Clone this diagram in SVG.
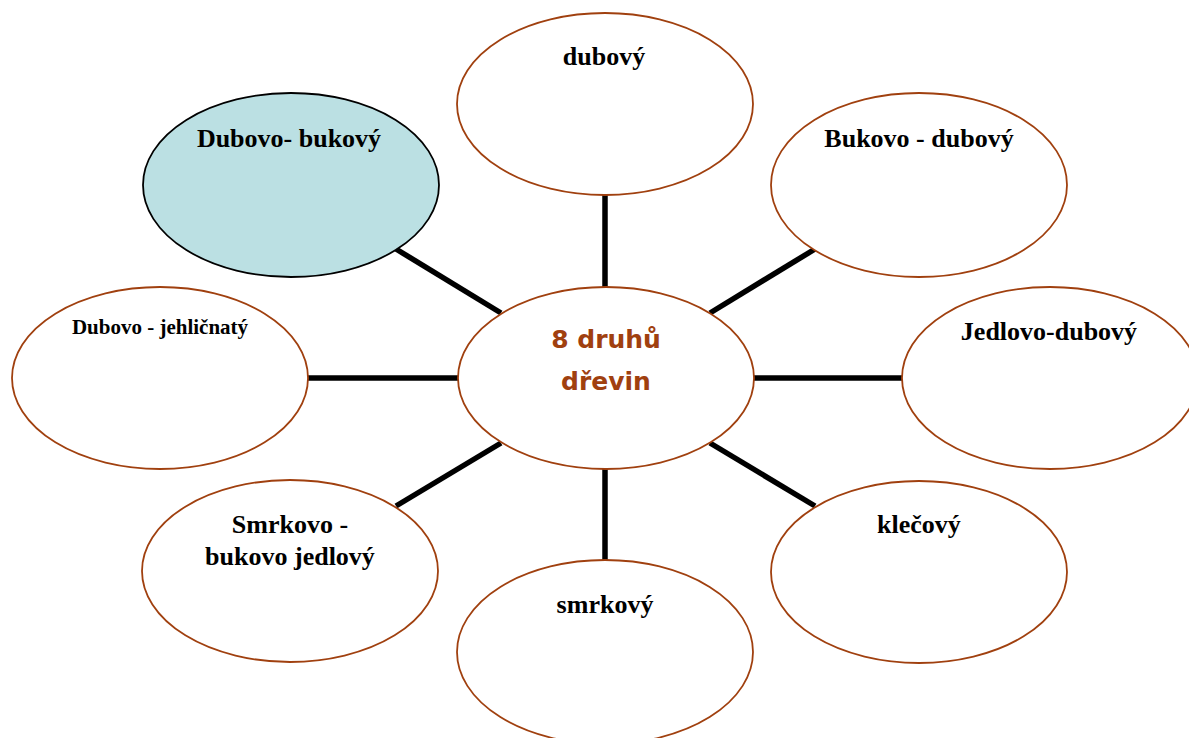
<svg xmlns="http://www.w3.org/2000/svg" width="1189" height="738" viewBox="0 0 1189 738">
<style>
.n{fill:#fff;stroke:#A0400F;stroke-width:1.8}
.hl{fill:#BBE0E3;stroke:#000;stroke-width:1.8}
.t{font-family:"Liberation Serif","Times New Roman",serif;font-weight:bold;font-size:26px;fill:#000;text-anchor:middle}
.s{font-size:21px}
.c{font-family:"Comic Sans MS","DejaVu Sans",sans-serif;font-weight:bold;font-size:25px;fill:#A0400F;text-anchor:middle}
.l{stroke:#000;stroke-width:5.5;fill:none}
</style>
<rect width="1189" height="738" fill="#fff"/>
<g id="connectors">
<line class="l" x1="605" y1="195" x2="605" y2="287"/>
<line class="l" x1="396" y1="249" x2="501" y2="313"/>
<line class="l" x1="815" y1="249" x2="710" y2="313"/>
<line class="l" x1="308" y1="378" x2="458" y2="378"/>
<line class="l" x1="753" y1="378" x2="902" y2="378"/>
<line class="l" x1="501" y1="443" x2="396" y2="506"/>
<line class="l" x1="710" y1="443" x2="815" y2="506"/>
<line class="l" x1="605" y1="469" x2="605" y2="561"/>
</g>
<g id="center">
<ellipse class="n" cx="606" cy="378" rx="148" ry="91"/>
<text class="c" x="606" y="348">8 druhů</text>
<text class="c" x="606" y="390">dřevin</text>
</g>
<g id="n-dubovy">
<ellipse class="n" cx="605" cy="104" rx="148" ry="91"/>
<text class="t" x="604" y="65">dubový</text>
</g>
<g id="n-dubovo-bukovy">
<ellipse class="hl" cx="291" cy="185" rx="148" ry="92"/>
<text class="t" x="289" y="147">Dubovo- bukový</text>
</g>
<g id="n-bukovo-dubovy">
<ellipse class="n" cx="919" cy="185" rx="148" ry="92"/>
<text class="t" x="919" y="147">Bukovo - dubový</text>
</g>
<g id="n-dubovo-jehlicnaty">
<ellipse class="n" cx="160" cy="378" rx="148" ry="91"/>
<text class="t s" x="160" y="334">Dubovo - jehličnatý</text>
</g>
<g id="n-jedlovo-dubovy">
<ellipse class="n" cx="1050" cy="378" rx="148" ry="91"/>
<text class="t" x="1049" y="340">Jedlovo-dubový</text>
</g>
<g id="n-smrkovo-bukovo-jedlovy">
<ellipse class="n" cx="290" cy="571" rx="148" ry="91"/>
<text class="t" x="290" y="533">Smrkovo -</text>
<text class="t" x="290" y="565">bukovo jedlový</text>
</g>
<g id="n-klecovy">
<ellipse class="n" cx="919" cy="572" rx="148" ry="91"/>
<text class="t" x="919" y="533">klečový</text>
</g>
<g id="n-smrkovy">
<ellipse class="n" cx="605" cy="652" rx="148" ry="92"/>
<text class="t" x="605" y="613">smrkový</text>
</g>
</svg>
